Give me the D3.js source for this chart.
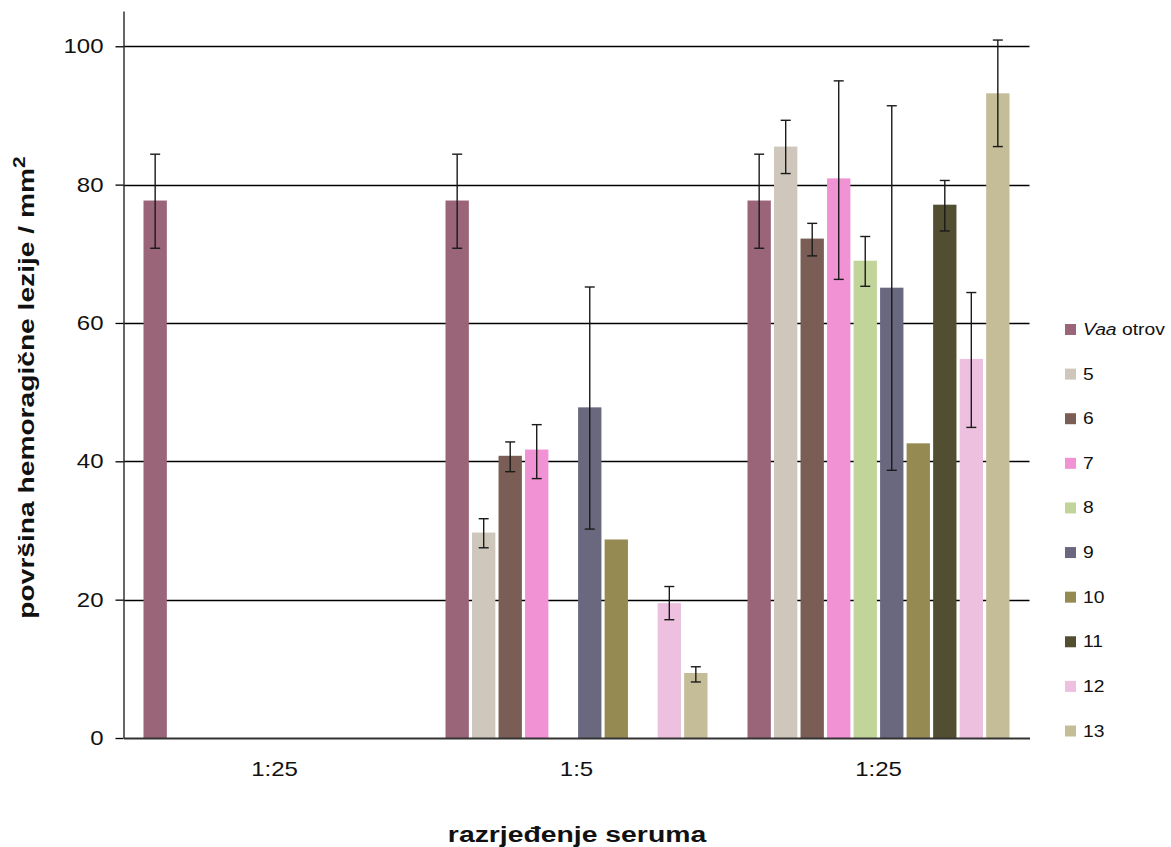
<!DOCTYPE html>
<html>
<head>
<meta charset="utf-8">
<script src="https://cdn.jsdelivr.net/npm/d3@7"></script>
<style>
  html, body { margin: 0; padding: 0; background: #fff; }
  svg { display: block; font-family: "Liberation Sans", Arial, sans-serif; }
</style>
</head>
<body>
<svg id="chart" width="1171" height="847"></svg>
<script>
// ---- data ----
const groupIds = ["g1", "g2", "g3"];
const groupLabels = ["1:25", "1:5", "1:25"];
const seriesNames = ["Vaa otrov", "5", "6", "7", "8", "9", "10", "11", "12", "13"];
const seriesColors = ["#9a6479", "#cfc7bc", "#7a5e55", "#f092d4", "#c1d499", "#69687f", "#968a53", "#524e31", "#ecc0de", "#c5bd97"];
// values per group, one entry per series (null = no bar)
const valuesG1 = [77.7, null, null, null, null, null, null, null, null, null];
const valuesG2 = [77.7, 29.7, 40.8, 41.7, null, 47.8, 28.7, null, 19.5, 9.4];
const valuesG3 = [77.7, 85.5, 72.2, 80.9, 69.0, 65.1, 42.6, 77.1, 54.8, 93.2];
// error bar bounds (null = no error bar)
const errLowG1  = [70.8, null, null, null, null, null, null, null, null, null];
const errHighG1 = [84.4, null, null, null, null, null, null, null, null, null];
const errLowG2  = [70.8, 27.5, 38.5, 37.5, null, 30.2, null, null, 17.1, 8.1];
const errHighG2 = [84.4, 31.7, 42.8, 45.3, null, 65.2, null, null, 21.9, 10.3];
const errLowG3  = [70.8, 81.6, 69.7, 66.3, 65.3, 38.7, null, 73.3, 44.9, 85.5];
const errHighG3 = [84.4, 89.3, 74.4, 95.0, 72.5, 91.4, null, 80.6, 64.4, 100.9];
const yTicks = [0, 20, 40, 60, 80, 100];

const groupValues = [valuesG1, valuesG2, valuesG3];
const groupLow = [errLowG1, errLowG2, errLowG3];
const groupHigh = [errHighG1, errHighG2, errHighG3];

// ---- layout ----
const svg = d3.select("#chart");
const mLeft = 123.5, mRight = 1029.5, mTop = 11, mBottom = 738;
const SX = 1.2; // horizontal stretch of the original's lettering

const x0 = d3.scaleBand().domain(groupIds).range([mLeft, mRight]).paddingInner(0).paddingOuter(0);
const x1 = d3.scaleBand().domain(seriesNames).range([20, x0.bandwidth() - 20]).paddingInner(0.12).paddingOuter(0);
const y = d3.scaleLinear().domain([0, 105.1]).range([mBottom, mTop]);

// gridlines
svg.append("g").selectAll("line").data(yTicks.filter(d => d > 0)).join("line")
  .attr("x1", mLeft).attr("x2", mRight)
  .attr("y1", d => Math.round(y(d)) + 0.5).attr("y2", d => Math.round(y(d)) + 0.5)
  .attr("stroke", "#000").attr("stroke-width", 1.3);

// bars
const records = [];
groupIds.forEach((g, gi) => {
  seriesNames.forEach((s, si) => {
    records.push({ g, s, si, v: groupValues[gi][si], lo: groupLow[gi][si], hi: groupHigh[gi][si] });
  });
});

svg.append("g").selectAll("rect").data(records.filter(d => d.v !== null)).join("rect")
  .attr("x", d => x0(d.g) + x1(d.s))
  .attr("width", x1.bandwidth())
  .attr("y", d => y(d.v))
  .attr("height", d => y(0) - y(d.v))
  .attr("fill", d => seriesColors[d.si]);

// error bars
const eb = svg.append("g").attr("stroke", "#1a1a1a").attr("stroke-width", 1.4);
const ebData = records.filter(d => d.lo !== null);
eb.selectAll("line.v").data(ebData).join("line").attr("class", "v")
  .attr("x1", d => x0(d.g) + x1(d.s) + x1.bandwidth() / 2)
  .attr("x2", d => x0(d.g) + x1(d.s) + x1.bandwidth() / 2)
  .attr("y1", d => y(d.lo)).attr("y2", d => y(d.hi));
["lo", "hi"].forEach(k => {
  eb.selectAll("line.c" + k).data(ebData).join("line").attr("class", "c" + k)
    .attr("x1", d => x0(d.g) + x1(d.s) + x1.bandwidth() / 2 - 5)
    .attr("x2", d => x0(d.g) + x1(d.s) + x1.bandwidth() / 2 + 5)
    .attr("y1", d => y(d[k])).attr("y2", d => y(d[k]));
});

// y axis
const yAxis = d3.axisLeft(y).tickValues(yTicks).tickSize(8).tickPadding(8).tickSizeOuter(0);
const gy = svg.append("g").attr("transform", `translate(${mLeft},0)`).call(yAxis);
gy.select(".domain").attr("stroke", "#333").attr("stroke-width", 1.5);
gy.selectAll(".tick line").attr("stroke", "#000").attr("stroke-width", 1.3);
gy.selectAll(".tick text").attr("font-size", 20).attr("fill", "#111")
  .attr("font-family", "Liberation Sans, Arial, sans-serif")
  .attr("x", -20 / SX).attr("transform", `scale(${SX},1)`);

// x axis
const xAxis = d3.axisBottom(x0).tickSize(0).tickPadding(24).tickFormat((d, i) => groupLabels[i]);
const gx = svg.append("g").attr("transform", `translate(0,${mBottom})`).call(xAxis);
gx.select(".domain").attr("stroke", "#333").attr("stroke-width", 1.8);
gx.selectAll(".tick text").attr("font-size", 20).attr("fill", "#111")
  .attr("font-family", "Liberation Sans, Arial, sans-serif")
  .attr("transform", `scale(${SX},1)`);

// axis titles
svg.append("text").attr("transform", `translate(577,841.5) scale(1.26,1)`).attr("text-anchor", "middle")
  .attr("font-size", 22.5).attr("font-weight", "bold").attr("fill", "#111")
  .text("razrjeđenje seruma");
const yt = svg.append("text").attr("transform", "translate(33.5,387.5) rotate(-90) scale(1.31,1)")
  .attr("text-anchor", "middle").attr("font-size", 21.5).attr("font-weight", "bold").attr("fill", "#111");
yt.append("tspan").text("površina hemoragične lezije / mm");
yt.append("tspan").attr("dy", -8.5).attr("font-size", 16).text("2");

// legend
const legend = svg.append("g");
const ly = d3.scalePoint().domain(seriesNames).range([329.5, 731]);
const li = legend.selectAll("g").data(seriesNames).join("g")
  .attr("transform", d => `translate(1065,${ly(d)})`);
li.append("rect").attr("x", 0).attr("y", -5.5).attr("width", 11).attr("height", 11)
  .attr("fill", (d, i) => seriesColors[i]);
li.append("text").attr("transform", `translate(18,5.5) scale(1.17,1)`).attr("font-size", 16.5).attr("fill", "#111")
  .each(function (d) {
    const t = d3.select(this);
    if (d === "Vaa otrov") {
      t.append("tspan").attr("font-style", "italic").text("Vaa");
      t.append("tspan").text(" otrov");
    } else {
      t.text(d);
    }
  });
</script>
</body>
</html>
